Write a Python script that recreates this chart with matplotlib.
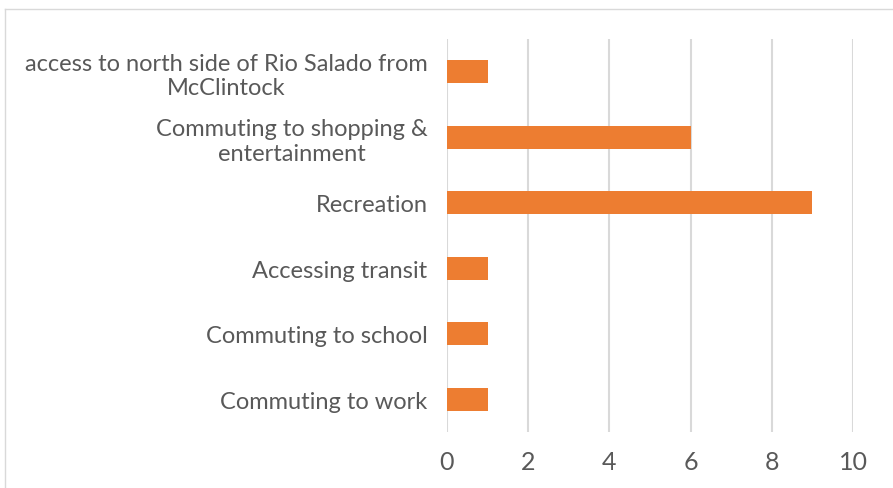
import matplotlib
matplotlib.use("Agg")
import matplotlib.pyplot as plt
from matplotlib.lines import Line2D

# data, bottom to top
categories = [
    "Commuting to work",
    "Commuting to school",
    "Accessing transit",
    "Recreation",
    "Commuting to shopping &\nentertainment",
    "access to north side of Rio Salado from\nMcClintock",
]
counts = [1, 1, 1, 9, 6, 1]
x_ticks = [0, 2, 4, 6, 8, 10]

plt.rcParams["font.family"] = ["Lato", "DejaVu Sans"]
text_color = "#595959"
grid_color = "#d9d9d9"

fig = plt.figure(figsize=(8.93, 4.89), dpi=100)
ax = fig.add_axes([447 / 893, 1 - 433 / 489, (853 - 447) / 893, (433 - 40) / 489])

ypos = list(range(len(categories)))
ax.barh(ypos, counts, height=0.35, color="#ED7D31", zorder=3)

ax.set_xlim(0, 10)
ax.set_ylim(-0.5, len(categories) - 0.5)
ax.set_xticks(x_ticks)
ax.set_xticklabels([str(t) for t in x_ticks])
ax.set_yticks(ypos)
ax.set_yticklabels(categories, multialignment="center", linespacing=1.2)

ax.grid(axis="x", color=grid_color, linewidth=1.5, zorder=0)
for s in ax.spines.values():
    s.set_visible(False)
ax.tick_params(axis="y", length=0, pad=14, labelsize=17, labelcolor=text_color)
ax.tick_params(axis="x", length=0, pad=13, labelsize=18, labelcolor=text_color)

# chart border (top and left visible)
fig.add_artist(Line2D([5 / 893, 5 / 893], [0, 1 - 10 / 489], transform=fig.transFigure,
                      color=grid_color, linewidth=1))
fig.add_artist(Line2D([5 / 893, 1], [1 - 10 / 489, 1 - 10 / 489], transform=fig.transFigure,
                      color=grid_color, linewidth=1))

fig.savefig("out.png", dpi=100)
